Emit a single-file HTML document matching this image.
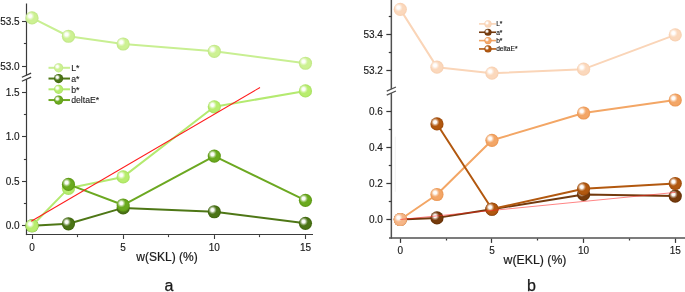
<!DOCTYPE html>
<html><head><meta charset="utf-8"><style>
html,body{margin:0;padding:0;background:#fff;}
body{width:685px;height:292px;overflow:hidden;}
svg{display:block;font-family:"Liberation Sans", sans-serif;will-change:transform;}
</style></head><body>
<svg width="685" height="292" viewBox="0 0 685 292">
<defs><radialGradient id="hl" cx="0.5" cy="0.5" r="0.5"><stop offset="0" stop-color="#fff" stop-opacity="1"/><stop offset="0.35" stop-color="#fff" stop-opacity="0.95"/><stop offset="0.7" stop-color="#fff" stop-opacity="0.35"/><stop offset="1" stop-color="#fff" stop-opacity="0"/></radialGradient>
<radialGradient id="glL" cx="0.5" cy="0.5" r="0.5"><stop offset="0" stop-color="#cdf193"/><stop offset="0.7" stop-color="#cdf193"/><stop offset="1" stop-color="#c0e686"/></radialGradient>
<radialGradient id="gla" cx="0.5" cy="0.5" r="0.5"><stop offset="0" stop-color="#4b7416"/><stop offset="0.7" stop-color="#4b7416"/><stop offset="1" stop-color="#3f650e"/></radialGradient>
<radialGradient id="glb" cx="0.5" cy="0.5" r="0.5"><stop offset="0" stop-color="#b8ed6e"/><stop offset="0.7" stop-color="#b8ed6e"/><stop offset="1" stop-color="#a8e060"/></radialGradient>
<radialGradient id="glE" cx="0.5" cy="0.5" r="0.5"><stop offset="0" stop-color="#6aaa1e"/><stop offset="0.7" stop-color="#6aaa1e"/><stop offset="1" stop-color="#5c9614"/></radialGradient>
<radialGradient id="grL" cx="0.5" cy="0.5" r="0.5"><stop offset="0" stop-color="#fbd8bc"/><stop offset="0.7" stop-color="#fbd8bc"/><stop offset="1" stop-color="#f7cfb0"/></radialGradient>
<radialGradient id="gra" cx="0.5" cy="0.5" r="0.5"><stop offset="0" stop-color="#773b0c"/><stop offset="0.7" stop-color="#773b0c"/><stop offset="1" stop-color="#642f06"/></radialGradient>
<radialGradient id="grb" cx="0.5" cy="0.5" r="0.5"><stop offset="0" stop-color="#f3a667"/><stop offset="0.7" stop-color="#f3a667"/><stop offset="1" stop-color="#ea9652"/></radialGradient>
<radialGradient id="grE" cx="0.5" cy="0.5" r="0.5"><stop offset="0" stop-color="#b2580f"/><stop offset="0.7" stop-color="#b2580f"/><stop offset="1" stop-color="#9c4a0a"/></radialGradient>
<radialGradient id="grb0" cx="0.5" cy="0.5" r="0.5"><stop offset="0" stop-color="#f6b688"/><stop offset="0.7" stop-color="#f6b688"/><stop offset="1" stop-color="#eea874"/></radialGradient></defs>
<rect width="685" height="292" fill="#fff"/>
<line x1="26.5" y1="3.5" x2="26.5" y2="75.15" stroke="#3a3a3a" stroke-width="1.2"/>
<line x1="26.5" y1="79.15" x2="26.5" y2="235.1" stroke="#3a3a3a" stroke-width="1.2"/>
<line x1="21.9" y1="77.25" x2="31.1" y2="73.05" stroke="#3a3a3a" stroke-width="1.3"/>
<line x1="21.9" y1="81.25" x2="31.1" y2="77.05" stroke="#3a3a3a" stroke-width="1.3"/>
<line x1="25.9" y1="234.5" x2="313" y2="234.5" stroke="#3a3a3a" stroke-width="1.2"/>
<line x1="22" y1="21.5" x2="26.5" y2="21.5" stroke="#3a3a3a" stroke-width="1.1"/>
<text x="19.7" y="25" font-size="10" text-anchor="end" fill="#1a1a1a" stroke="#1a1a1a" stroke-width="0.15">53.5</text>
<line x1="22" y1="66.5" x2="26.5" y2="66.5" stroke="#3a3a3a" stroke-width="1.1"/>
<text x="19.7" y="69.7" font-size="10" text-anchor="end" fill="#1a1a1a" stroke="#1a1a1a" stroke-width="0.15">53.0</text>
<line x1="23.9" y1="43.5" x2="26.5" y2="43.5" stroke="#3a3a3a" stroke-width="1.1"/>
<line x1="22" y1="225.5" x2="26.5" y2="225.5" stroke="#3a3a3a" stroke-width="1.1"/>
<text x="19.7" y="229.2" font-size="10" text-anchor="end" fill="#1a1a1a" stroke="#1a1a1a" stroke-width="0.15">0.0</text>
<line x1="22" y1="181.5" x2="26.5" y2="181.5" stroke="#3a3a3a" stroke-width="1.1"/>
<text x="19.7" y="184.75" font-size="10" text-anchor="end" fill="#1a1a1a" stroke="#1a1a1a" stroke-width="0.15">0.5</text>
<line x1="22" y1="136.5" x2="26.5" y2="136.5" stroke="#3a3a3a" stroke-width="1.1"/>
<text x="19.7" y="140.3" font-size="10" text-anchor="end" fill="#1a1a1a" stroke="#1a1a1a" stroke-width="0.15">1.0</text>
<line x1="22" y1="92.5" x2="26.5" y2="92.5" stroke="#3a3a3a" stroke-width="1.1"/>
<text x="19.7" y="95.85" font-size="10" text-anchor="end" fill="#1a1a1a" stroke="#1a1a1a" stroke-width="0.15">1.5</text>
<line x1="23.9" y1="203.5" x2="26.5" y2="203.5" stroke="#3a3a3a" stroke-width="1.1"/>
<line x1="23.9" y1="159.5" x2="26.5" y2="159.5" stroke="#3a3a3a" stroke-width="1.1"/>
<line x1="23.9" y1="114.5" x2="26.5" y2="114.5" stroke="#3a3a3a" stroke-width="1.1"/>
<line x1="32.5" y1="235.1" x2="32.5" y2="239" stroke="#3a3a3a" stroke-width="1.1"/>
<text x="32" y="250.5" font-size="10" text-anchor="middle" fill="#1a1a1a" stroke="#1a1a1a" stroke-width="0.15">0</text>
<line x1="123.5" y1="235.1" x2="123.5" y2="239" stroke="#3a3a3a" stroke-width="1.1"/>
<text x="123.15" y="250.5" font-size="10" text-anchor="middle" fill="#1a1a1a" stroke="#1a1a1a" stroke-width="0.15">5</text>
<line x1="214.5" y1="235.1" x2="214.5" y2="239" stroke="#3a3a3a" stroke-width="1.1"/>
<text x="214.3" y="250.5" font-size="10" text-anchor="middle" fill="#1a1a1a" stroke="#1a1a1a" stroke-width="0.15">10</text>
<line x1="305.5" y1="235.1" x2="305.5" y2="239" stroke="#3a3a3a" stroke-width="1.1"/>
<text x="305.45" y="250.5" font-size="10" text-anchor="middle" fill="#1a1a1a" stroke="#1a1a1a" stroke-width="0.15">15</text>
<line x1="77.5" y1="235.1" x2="77.5" y2="237.1" stroke="#3a3a3a" stroke-width="1.1"/>
<line x1="168.5" y1="235.1" x2="168.5" y2="237.1" stroke="#3a3a3a" stroke-width="1.1"/>
<line x1="259.5" y1="235.1" x2="259.5" y2="237.1" stroke="#3a3a3a" stroke-width="1.1"/>
<polyline points="32,17.9 68.46,36.26 123.15,44 214.3,51.29 305.45,63.26" fill="none" stroke="#c8ef92" stroke-width="2" stroke-linejoin="round"/>
<circle cx="32" cy="17.9" r="6.6" fill="url(#glL)"/>
<circle cx="30.15" cy="16.12" r="4.36" fill="url(#hl)"/>
<circle cx="68.46" cy="36.26" r="6.6" fill="url(#glL)"/>
<circle cx="66.61" cy="34.48" r="4.36" fill="url(#hl)"/>
<circle cx="123.15" cy="44" r="6.6" fill="url(#glL)"/>
<circle cx="121.3" cy="42.22" r="4.36" fill="url(#hl)"/>
<circle cx="214.3" cy="51.29" r="6.6" fill="url(#glL)"/>
<circle cx="212.45" cy="49.51" r="4.36" fill="url(#hl)"/>
<circle cx="305.45" cy="63.26" r="6.6" fill="url(#glL)"/>
<circle cx="303.6" cy="61.48" r="4.36" fill="url(#hl)"/>
<polyline points="32,225.75 68.46,223.79 123.15,207.89 214.3,211.73 305.45,223.34" fill="none" stroke="#4e7716" stroke-width="2" stroke-linejoin="round"/>
<circle cx="32" cy="225.75" r="6.6" fill="url(#gla)"/>
<circle cx="30.15" cy="223.97" r="4.36" fill="url(#hl)"/>
<circle cx="68.46" cy="223.79" r="6.6" fill="url(#gla)"/>
<circle cx="66.61" cy="222" r="4.36" fill="url(#hl)"/>
<circle cx="123.15" cy="207.89" r="6.6" fill="url(#gla)"/>
<circle cx="121.3" cy="206.11" r="4.36" fill="url(#hl)"/>
<circle cx="214.3" cy="211.73" r="6.6" fill="url(#gla)"/>
<circle cx="212.45" cy="209.95" r="4.36" fill="url(#hl)"/>
<circle cx="305.45" cy="223.34" r="6.6" fill="url(#gla)"/>
<circle cx="303.6" cy="221.56" r="4.36" fill="url(#hl)"/>
<polyline points="32,225.75 68.46,188.33 123.15,176.9 214.3,106.8 305.45,90.91" fill="none" stroke="#b4ea70" stroke-width="2" stroke-linejoin="round"/>
<circle cx="32" cy="225.75" r="6.6" fill="url(#glb)"/>
<circle cx="30.15" cy="223.97" r="4.36" fill="url(#hl)"/>
<circle cx="68.46" cy="188.33" r="6.6" fill="url(#glb)"/>
<circle cx="66.61" cy="186.55" r="4.36" fill="url(#hl)"/>
<circle cx="123.15" cy="176.9" r="6.6" fill="url(#glb)"/>
<circle cx="121.3" cy="175.12" r="4.36" fill="url(#hl)"/>
<circle cx="214.3" cy="106.8" r="6.6" fill="url(#glb)"/>
<circle cx="212.45" cy="105.02" r="4.36" fill="url(#hl)"/>
<circle cx="305.45" cy="90.91" r="6.6" fill="url(#glb)"/>
<circle cx="303.6" cy="89.13" r="4.36" fill="url(#hl)"/>
<polyline points="68.46,184.4 123.15,205.03 214.3,156.1 305.45,200.3" fill="none" stroke="#6ca821" stroke-width="2" stroke-linejoin="round"/>
<circle cx="68.46" cy="184.4" r="6.6" fill="url(#glE)"/>
<circle cx="66.61" cy="182.62" r="4.36" fill="url(#hl)"/>
<circle cx="123.15" cy="205.03" r="6.6" fill="url(#glE)"/>
<circle cx="121.3" cy="203.25" r="4.36" fill="url(#hl)"/>
<circle cx="214.3" cy="156.1" r="6.6" fill="url(#glE)"/>
<circle cx="212.45" cy="154.31" r="4.36" fill="url(#hl)"/>
<circle cx="305.45" cy="200.3" r="6.6" fill="url(#glE)"/>
<circle cx="303.6" cy="198.52" r="4.36" fill="url(#hl)"/>
<line x1="31.25" y1="221.25" x2="260" y2="87.5" stroke="#ff1c1c" stroke-width="1.05"/>
<line x1="48.5" y1="67.8" x2="70" y2="67.8" stroke="#c8ef92" stroke-width="2"/>
<circle cx="58.6" cy="67.8" r="4.6" fill="url(#glL)"/>
<circle cx="57.31" cy="66.56" r="3.04" fill="url(#hl)"/>
<text x="71.2" y="71" font-size="8.7" text-anchor="start" fill="#1a1a1a" stroke="#1a1a1a" stroke-width="0.1">L*</text>
<line x1="48.5" y1="78.55" x2="70" y2="78.55" stroke="#4e7716" stroke-width="2"/>
<circle cx="58.6" cy="78.55" r="4.6" fill="url(#gla)"/>
<circle cx="57.31" cy="77.31" r="3.04" fill="url(#hl)"/>
<text x="71.2" y="81.75" font-size="8.7" text-anchor="start" fill="#1a1a1a" stroke="#1a1a1a" stroke-width="0.1">a*</text>
<line x1="48.5" y1="89.3" x2="70" y2="89.3" stroke="#b4ea70" stroke-width="2"/>
<circle cx="58.6" cy="89.3" r="4.6" fill="url(#glb)"/>
<circle cx="57.31" cy="88.06" r="3.04" fill="url(#hl)"/>
<text x="71.2" y="92.5" font-size="8.7" text-anchor="start" fill="#1a1a1a" stroke="#1a1a1a" stroke-width="0.1">b*</text>
<line x1="48.5" y1="100.05" x2="70" y2="100.05" stroke="#6ca821" stroke-width="2"/>
<circle cx="58.6" cy="100.05" r="4.6" fill="url(#glE)"/>
<circle cx="57.31" cy="98.81" r="3.04" fill="url(#hl)"/>
<text x="71.2" y="103.25" font-size="8.7" text-anchor="start" fill="#1a1a1a" stroke="#1a1a1a" stroke-width="0.1">deltaE*</text>
<text x="167" y="261.1" font-size="12" text-anchor="middle" fill="#1a1a1a" stroke="#1a1a1a" stroke-width="0.2">w(SKL) (%)</text>
<text x="169" y="291" font-size="16" text-anchor="middle" fill="#1a1a1a" stroke="#1a1a1a" stroke-width="0.25">a</text>
<line x1="391.35" y1="0" x2="391.35" y2="89.1" stroke="#505050" stroke-width="1.5"/>
<line x1="391.35" y1="93.1" x2="391.35" y2="238.65" stroke="#505050" stroke-width="1.5"/>
<line x1="386.75" y1="91.2" x2="395.95" y2="87" stroke="#505050" stroke-width="1.3"/>
<line x1="386.75" y1="95.2" x2="395.95" y2="91" stroke="#505050" stroke-width="1.3"/>
<line x1="389" y1="237.9" x2="685" y2="237.9" stroke="#505050" stroke-width="1.5"/>
<line x1="386.35" y1="34.5" x2="391.35" y2="34.5" stroke="#383838" stroke-width="1.25"/>
<text x="382.85" y="38" font-size="10" text-anchor="end" fill="#1a1a1a" stroke="#1a1a1a" stroke-width="0.15">53.4</text>
<line x1="386.35" y1="70.5" x2="391.35" y2="70.5" stroke="#383838" stroke-width="1.25"/>
<text x="382.85" y="74" font-size="10" text-anchor="end" fill="#1a1a1a" stroke="#1a1a1a" stroke-width="0.15">53.2</text>
<line x1="388.75" y1="16.5" x2="391.35" y2="16.5" stroke="#383838" stroke-width="1.25"/>
<line x1="388.75" y1="52.5" x2="391.35" y2="52.5" stroke="#383838" stroke-width="1.25"/>
<line x1="386.35" y1="219.5" x2="391.35" y2="219.5" stroke="#383838" stroke-width="1.25"/>
<text x="382.85" y="223.2" font-size="10" text-anchor="end" fill="#1a1a1a" stroke="#1a1a1a" stroke-width="0.15">0.0</text>
<line x1="386.35" y1="183.5" x2="391.35" y2="183.5" stroke="#383838" stroke-width="1.25"/>
<text x="382.85" y="187.04" font-size="10" text-anchor="end" fill="#1a1a1a" stroke="#1a1a1a" stroke-width="0.15">0.2</text>
<line x1="386.35" y1="147.5" x2="391.35" y2="147.5" stroke="#383838" stroke-width="1.25"/>
<text x="382.85" y="150.88" font-size="10" text-anchor="end" fill="#1a1a1a" stroke="#1a1a1a" stroke-width="0.15">0.4</text>
<line x1="386.35" y1="111.5" x2="391.35" y2="111.5" stroke="#383838" stroke-width="1.25"/>
<text x="382.85" y="114.72" font-size="10" text-anchor="end" fill="#1a1a1a" stroke="#1a1a1a" stroke-width="0.15">0.6</text>
<line x1="388.75" y1="201.5" x2="391.35" y2="201.5" stroke="#383838" stroke-width="1.25"/>
<line x1="388.75" y1="165.5" x2="391.35" y2="165.5" stroke="#383838" stroke-width="1.25"/>
<line x1="388.75" y1="129.5" x2="391.35" y2="129.5" stroke="#383838" stroke-width="1.25"/>
<line x1="400.5" y1="238.65" x2="400.5" y2="242.9" stroke="#383838" stroke-width="1.25"/>
<text x="400.3" y="253.9" font-size="10" text-anchor="middle" fill="#1a1a1a" stroke="#1a1a1a" stroke-width="0.15">0</text>
<line x1="491.5" y1="238.65" x2="491.5" y2="242.9" stroke="#383838" stroke-width="1.25"/>
<text x="491.95" y="253.9" font-size="10" text-anchor="middle" fill="#1a1a1a" stroke="#1a1a1a" stroke-width="0.15">5</text>
<line x1="583.5" y1="238.65" x2="583.5" y2="242.9" stroke="#383838" stroke-width="1.25"/>
<text x="583.6" y="253.9" font-size="10" text-anchor="middle" fill="#1a1a1a" stroke="#1a1a1a" stroke-width="0.15">10</text>
<line x1="675.5" y1="238.65" x2="675.5" y2="242.9" stroke="#383838" stroke-width="1.25"/>
<text x="675.25" y="253.9" font-size="10" text-anchor="middle" fill="#1a1a1a" stroke="#1a1a1a" stroke-width="0.15">15</text>
<line x1="446.5" y1="238.65" x2="446.5" y2="240.5" stroke="#383838" stroke-width="1.25"/>
<line x1="537.5" y1="238.65" x2="537.5" y2="240.5" stroke="#383838" stroke-width="1.25"/>
<line x1="629.5" y1="238.65" x2="629.5" y2="240.5" stroke="#383838" stroke-width="1.25"/>
<line x1="395.3" y1="136.6" x2="395.3" y2="191.8" stroke="#ebebeb" stroke-width="0.7"/>
<polyline points="400.3,9.36 436.96,67.15 491.95,73.18 583.6,69.16 675.25,34.85" fill="none" stroke="#fad5b8" stroke-width="2" stroke-linejoin="round"/>
<circle cx="400.3" cy="9.36" r="6.6" fill="url(#grL)"/>
<circle cx="398.45" cy="7.57" r="4.36" fill="url(#hl)"/>
<circle cx="436.96" cy="67.15" r="6.6" fill="url(#grL)"/>
<circle cx="435.11" cy="65.37" r="4.36" fill="url(#hl)"/>
<circle cx="491.95" cy="73.18" r="6.6" fill="url(#grL)"/>
<circle cx="490.1" cy="71.4" r="4.36" fill="url(#hl)"/>
<circle cx="583.6" cy="69.16" r="6.6" fill="url(#grL)"/>
<circle cx="581.75" cy="67.38" r="4.36" fill="url(#hl)"/>
<circle cx="675.25" cy="34.85" r="6.6" fill="url(#grL)"/>
<circle cx="673.4" cy="33.07" r="4.36" fill="url(#hl)"/>
<polyline points="400.3,219.5 436.96,217.88 491.95,209.24 583.6,194.41 675.25,196.1" fill="none" stroke="#733a0e" stroke-width="2" stroke-linejoin="round"/>
<circle cx="400.3" cy="219.5" r="6.6" fill="url(#gra)"/>
<circle cx="398.45" cy="217.72" r="4.36" fill="url(#hl)"/>
<circle cx="436.96" cy="217.88" r="6.6" fill="url(#gra)"/>
<circle cx="435.11" cy="216.1" r="4.36" fill="url(#hl)"/>
<circle cx="491.95" cy="209.24" r="6.6" fill="url(#gra)"/>
<circle cx="490.1" cy="207.46" r="4.36" fill="url(#hl)"/>
<circle cx="583.6" cy="194.41" r="6.6" fill="url(#gra)"/>
<circle cx="581.75" cy="192.63" r="4.36" fill="url(#hl)"/>
<circle cx="675.25" cy="196.1" r="6.6" fill="url(#gra)"/>
<circle cx="673.4" cy="194.32" r="4.36" fill="url(#hl)"/>
<polyline points="400.3,219.5 436.96,194.48 491.95,140.3 583.6,112.99 675.25,99.98" fill="none" stroke="#f3a665" stroke-width="2" stroke-linejoin="round"/>
<circle cx="400.3" cy="219.5" r="6.6" fill="url(#grb)"/>
<circle cx="398.45" cy="217.72" r="4.36" fill="url(#hl)"/>
<circle cx="436.96" cy="194.48" r="6.6" fill="url(#grb)"/>
<circle cx="435.11" cy="192.7" r="4.36" fill="url(#hl)"/>
<circle cx="491.95" cy="140.3" r="6.6" fill="url(#grb)"/>
<circle cx="490.1" cy="138.52" r="4.36" fill="url(#hl)"/>
<circle cx="583.6" cy="112.99" r="6.6" fill="url(#grb)"/>
<circle cx="581.75" cy="111.21" r="4.36" fill="url(#hl)"/>
<circle cx="675.25" cy="99.98" r="6.6" fill="url(#grb)"/>
<circle cx="673.4" cy="98.2" r="4.36" fill="url(#hl)"/>
<circle cx="400.3" cy="219.5" r="6.6" fill="url(#grb0)"/>
<circle cx="398.45" cy="217.72" r="4.36" fill="url(#hl)"/>
<polyline points="436.96,123.92 491.95,209.01 583.6,188.79 675.25,183.5" fill="none" stroke="#b2580f" stroke-width="2" stroke-linejoin="round"/>
<circle cx="436.96" cy="123.92" r="6.6" fill="url(#grE)"/>
<circle cx="435.11" cy="122.14" r="4.36" fill="url(#hl)"/>
<circle cx="491.95" cy="209.01" r="6.6" fill="url(#grE)"/>
<circle cx="490.1" cy="207.22" r="4.36" fill="url(#hl)"/>
<circle cx="583.6" cy="188.79" r="6.6" fill="url(#grE)"/>
<circle cx="581.75" cy="187.01" r="4.36" fill="url(#hl)"/>
<circle cx="675.25" cy="183.5" r="6.6" fill="url(#grE)"/>
<circle cx="673.4" cy="181.72" r="4.36" fill="url(#hl)"/>
<line x1="400.3" y1="219.5" x2="675.3" y2="192.4" stroke="#ff2020" stroke-width="0.55"/>
<line x1="479" y1="23.9" x2="496" y2="23.9" stroke="#fad5b8" stroke-width="1.6"/>
<circle cx="488" cy="23.9" r="3.6" fill="url(#grL)"/>
<circle cx="486.99" cy="22.93" r="2.38" fill="url(#hl)"/>
<text x="496.2" y="26.2" font-size="6.6" text-anchor="start" fill="#111" stroke="#111" stroke-width="0.12">L*</text>
<line x1="479" y1="32.25" x2="496" y2="32.25" stroke="#733a0e" stroke-width="1.6"/>
<circle cx="488" cy="32.25" r="3.6" fill="url(#gra)"/>
<circle cx="486.99" cy="31.28" r="2.38" fill="url(#hl)"/>
<text x="496.2" y="34.55" font-size="6.6" text-anchor="start" fill="#111" stroke="#111" stroke-width="0.12">a*</text>
<line x1="479" y1="40.6" x2="496" y2="40.6" stroke="#f3a665" stroke-width="1.6"/>
<circle cx="488" cy="40.6" r="3.6" fill="url(#grb)"/>
<circle cx="486.99" cy="39.63" r="2.38" fill="url(#hl)"/>
<text x="496.2" y="42.9" font-size="6.6" text-anchor="start" fill="#111" stroke="#111" stroke-width="0.12">b*</text>
<line x1="479" y1="48.95" x2="496" y2="48.95" stroke="#b2580f" stroke-width="1.6"/>
<circle cx="488" cy="48.95" r="3.6" fill="url(#grE)"/>
<circle cx="486.99" cy="47.98" r="2.38" fill="url(#hl)"/>
<text x="496.2" y="51.25" font-size="6.6" text-anchor="start" fill="#111" stroke="#111" stroke-width="0.12">deltaE*</text>
<text x="535" y="264" font-size="12.3" text-anchor="middle" fill="#1a1a1a" stroke="#1a1a1a" stroke-width="0.2">w(EKL) (%)</text>
<text x="531.5" y="291" font-size="16" text-anchor="middle" fill="#1a1a1a" stroke="#1a1a1a" stroke-width="0.25">b</text>
</svg>
</body></html>
